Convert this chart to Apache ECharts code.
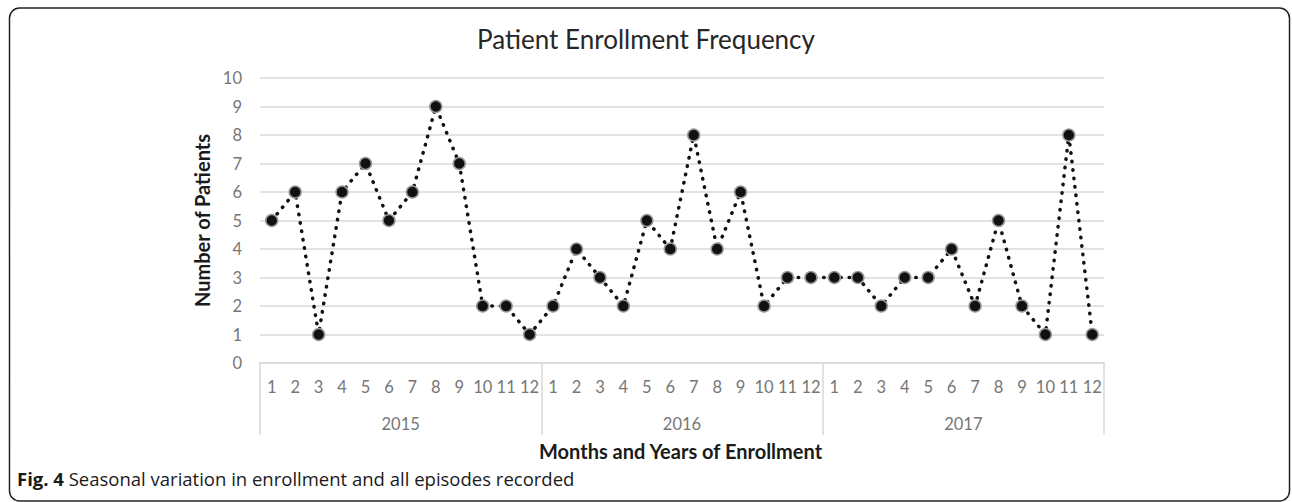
<!DOCTYPE html>
<html>
<head>
<meta charset="utf-8">
<script src="https://cdn.jsdelivr.net/npm/echarts@6/dist/echarts.min.js"></script>
<style>
html,body{margin:0;padding:0;background:#fff;}
#c{width:1292px;height:502px;}
</style>
</head>
<body>
<div id="c"></div>
<script>
const months = ['1','2','3','4','5','6','7','8','9','10','11','12'];
const years = ['2015','2016','2017'];
const values2015 = [5,6,1,6,7,5,6,9,7,2,2,1];
const values2016 = [2,4,3,2,5,4,8,4,6,2,3,3];
const values2017 = [3,3,2,3,3,4,2,5,2,1,8,1];
const yTicks = [0,1,2,3,4,5,6,7,8,9,10];

const categories = [];
years.forEach(y => months.forEach(m => categories.push(y + '-' + m)));
const values = values2015.concat(values2016, values2017);

const chart = echarts.init(document.getElementById('c'), null, {renderer: 'svg'});
const gray = '#767676';
const font = 'Lato, "Open Sans", sans-serif';
chart.setOption({
  animation: false,
  title: {
    text: 'Patient Enrollment Frequency',
    left: 'center',
    top: 21,
    textStyle: {fontFamily: font, fontSize: 26, fontWeight: 'normal', color: '#262626'}
  },
  grid: {left: 260, right: 188, top: 78, bottom: 139, containLabel: false},
  xAxis: [
    {
      type: 'category',
      data: categories,
      boundaryGap: true,
      position: 'bottom',
      axisLine: {show: false},
      axisTick: {show: false},
      axisLabel: {
        interval: 0, margin: 15, color: gray, fontFamily: font, fontSize: 16.5,
        formatter: v => v.split('-')[1]
      },
      splitLine: {show: false}
    },
    {
      type: 'category',
      data: years,
      boundaryGap: true,
      position: 'bottom',
      offset: 0,
      axisLine: {show: true, lineStyle: {color: '#d9d9d9', width: 1.5}},
      axisTick: {show: true, interval: 0, length: 72, lineStyle: {color: '#d9d9d9', width: 1.5}},
      axisLabel: {interval: 0, margin: 52, color: gray, fontFamily: font, fontSize: 16.5},
      splitLine: {show: false}
    }
  ],
  yAxis: {
    type: 'value',
    min: yTicks[0],
    max: yTicks[yTicks.length - 1],
    interval: 1,
    name: 'Number of Patients',
    nameLocation: 'middle',
    nameRotate: 90,
    nameGap: 40,
    nameTextStyle: {fontFamily: font, fontSize: 20, fontWeight: 'bold', color: '#1a1a1a'},
    axisLine: {show: false},
    axisTick: {show: false},
    axisLabel: {margin: 18, color: gray, fontFamily: font, fontSize: 16.5},
    splitLine: {lineStyle: {color: '#d9d9d9', width: 1.5}}
  },
  series: [{
    type: 'line',
    xAxisIndex: 0,
    data: values,
    symbol: 'circle',
    symbolSize: 12,
    itemStyle: {color: '#111', borderColor: '#9a9a9a', borderWidth: 1.5},
    lineStyle: {color: '#111', width: 3.5, type: [0.5, 8], cap: 'round'},
    z: 3
  }],
  graphic: [
    {
      type: 'rect',
      shape: {x: 9.5, y: 8, width: 1280, height: 493, r: 10},
      style: {fill: 'none', stroke: '#222', lineWidth: 1.5},
      silent: true
    },
    {
      type: 'text',
      left: 539,
      top: 441,
      style: {
        text: 'Months and Years of Enrollment',
        fontFamily: font, fontSize: 20, fontWeight: 'bold', fill: '#1a1a1a'
      }
    },
    {
      type: 'text',
      left: 17,
      top: 469,
      style: {
        text: '{b|Fig. 4} Seasonal variation in enrollment and all episodes recorded',
        rich: {
          b: {fontFamily: '"Open Sans", sans-serif', fontSize: 18.5, fontWeight: 'bold', fill: '#1a1a1a'}
        },
        fontFamily: '"Open Sans", sans-serif', fontSize: 18.5, fill: '#1a1a1a'
      }
    }
  ]
});
</script>
</body>
</html>
